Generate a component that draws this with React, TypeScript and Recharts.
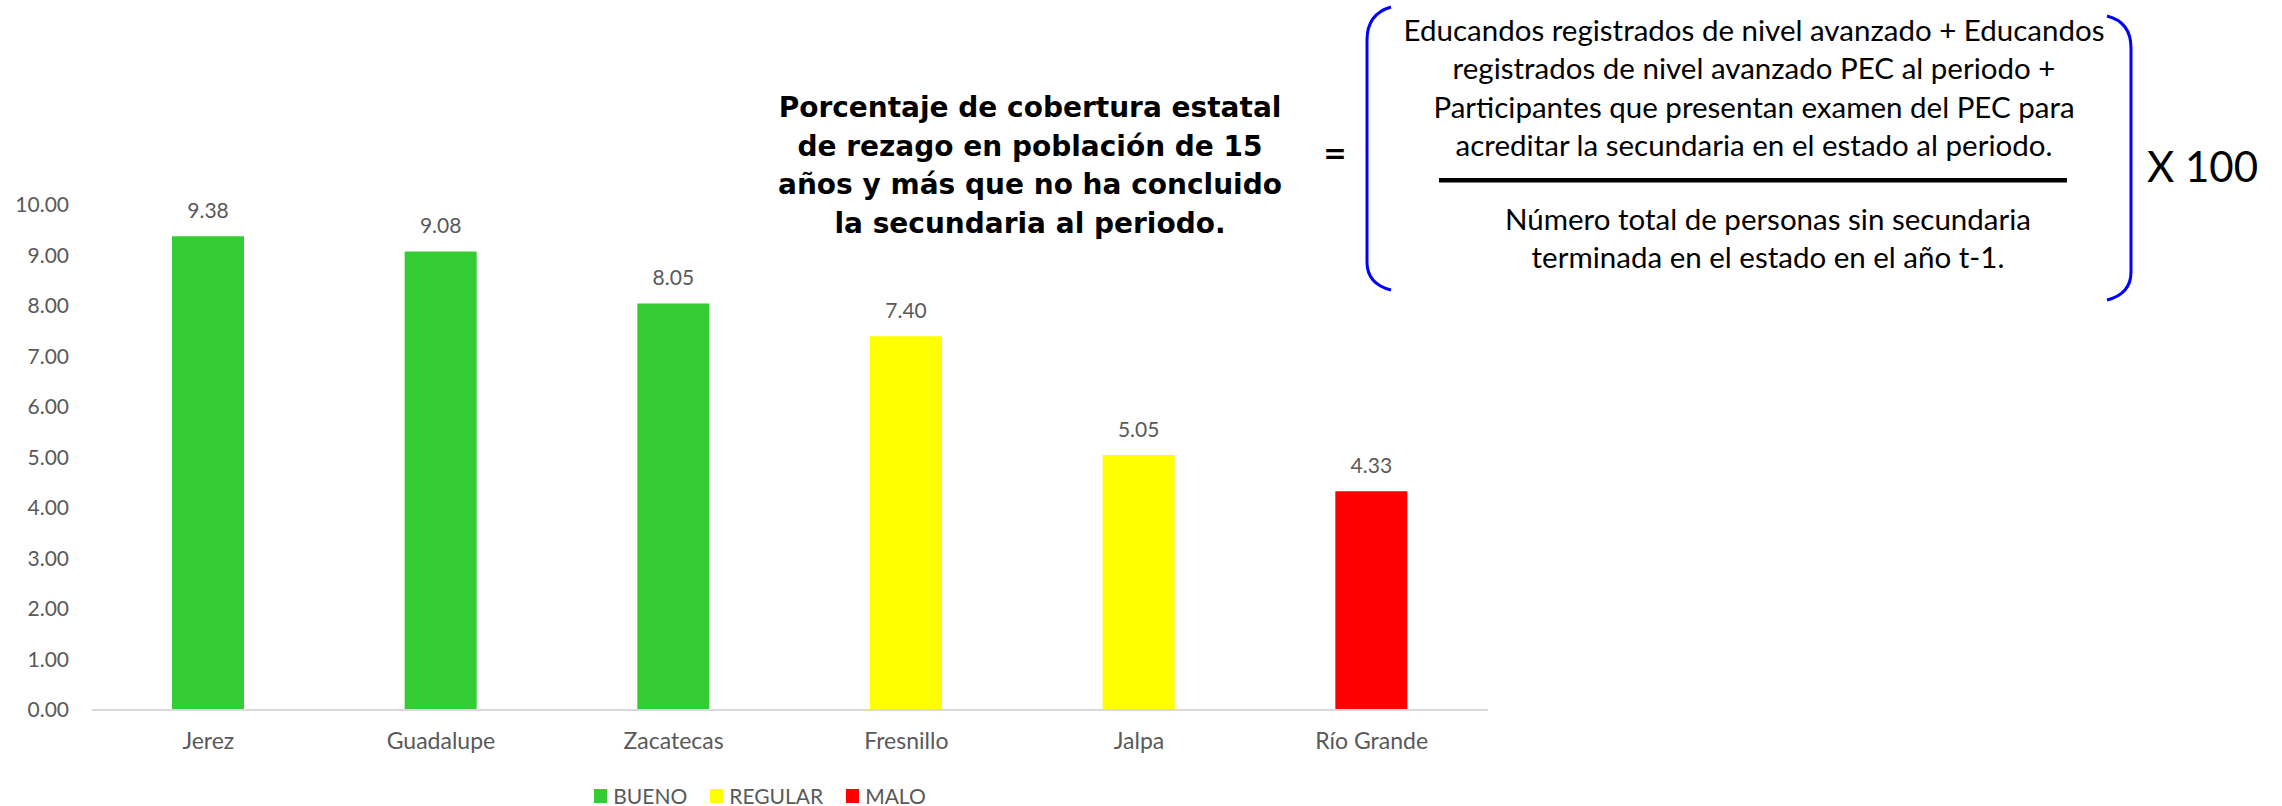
import { BarChart, Bar, XAxis, YAxis, Legend, LabelList } from 'recharts';

const categories = ['Jerez', 'Guadalupe', 'Zacatecas', 'Fresnillo', 'Jalpa', 'Río Grande'];
const values = [9.38, 9.08, 8.05, 7.4, 5.05, 4.33];
const ratings = ['BUENO', 'BUENO', 'BUENO', 'REGULAR', 'REGULAR', 'MALO'];
const levels = ['BUENO', 'REGULAR', 'MALO'];
const levelColors: Record<string, string> = { BUENO: '#33CC33', REGULAR: '#FFFF00', MALO: '#FF0000' };
const yTicks = [0, 1, 2, 3, 4, 5, 6, 7, 8, 9, 10];

const titleLines = [
  'Porcentaje de cobertura estatal',
  'de rezago en población de 15',
  'años y más que no ha concluido',
  'la secundaria al periodo.',
];
const numeratorLines = [
  'Educandos registrados de nivel avanzado + Educandos',
  'registrados de nivel avanzado PEC al periodo +',
  'Participantes que presentan examen del PEC para',
  'acreditar la secundaria en el estado al periodo.',
];
const denominatorLines = [
  'Número total de personas sin secundaria',
  'terminada en el estado en el año t-1.',
];

const chartData = categories.map((name, i) => {
  const row: Record<string, string | number | null> = { name };
  levels.forEach((l) => {
    row[l] = ratings[i] === l ? values[i] : null;
  });
  return row;
});

const FONT = 'Lato, "Open Sans", sans-serif';
const GRAY = '#595959';

function LegendBox() {
  return (
    <div style={{ display: 'flex', justifyContent: 'center', alignItems: 'center', gap: 23, fontFamily: FONT, fontSize: 21, color: GRAY }}>
      {levels.map((l) => (
        <div key={l} style={{ display: 'flex', alignItems: 'center' }}>
          <span style={{ display: 'inline-block', width: 13, height: 14, background: levelColors[l], marginRight: 6 }} />
          <span>{l}</span>
        </div>
      ))}
    </div>
  );
}

export default function App() {
  return (
    <div style={{ position: 'absolute', left: 0, top: 0, width: 2282, height: 806, background: '#fff' }}>
      <BarChart
        width={1520}
        height={806}
        data={chartData}
        margin={{ top: 205, right: 32, left: 0, bottom: 32 }}
      >
        <XAxis
          dataKey="name"
          axisLine={{ stroke: '#D9D9D9', strokeWidth: 2 }}
          tickLine={false}
          tickSize={0}
          tickMargin={23}
          height={40}
          tick={{ fontSize: 23, fill: GRAY, fontFamily: FONT }}
        />
        <YAxis
          domain={[0, 10]}
          ticks={yTicks}
          width={92}
          axisLine={false}
          tickLine={false}
          tickSize={0}
          tickMargin={23}
          tickFormatter={(v: number) => v.toFixed(2)}
          tick={{ fontSize: 21, fill: GRAY, fontFamily: FONT }}
        />
        <Legend
          height={24}
          verticalAlign="bottom"
          wrapperStyle={{ left: 0, width: 1520, top: 783, bottom: 'auto' }}
          content={() => <LegendBox />}
        />
        {levels.map((l) => (
          <Bar key={l} dataKey={l} stackId="a" fill={levelColors[l]} barSize={72} isAnimationActive={false}>
            <LabelList
              dataKey={l}
              position="top"
              offset={18}
              formatter={(v: any) => (v == null ? '' : Number(v).toFixed(2))}
              style={{ fontSize: 21, fill: GRAY, fontFamily: FONT }}
            />
          </Bar>
        ))}
      </BarChart>

      <svg
        width={2282}
        height={806}
        style={{ position: 'absolute', left: 0, top: 0, pointerEvents: 'none' }}
      >
        {titleLines.map((t, i) => (
          <text key={t} x={1030} y={117 + i * 38.5} textAnchor="middle" fontFamily='"DejaVu Sans", sans-serif' fontWeight="bold" fontSize={28} fill="#000">
            {t}
          </text>
        ))}
        <text x={1335} y={163} textAnchor="middle" fontFamily='"DejaVu Sans", sans-serif' fontWeight="bold" fontSize={28} fill="#000">=</text>

        {/* brackets */}
        <path d="M 1391 7 Q 1367 14 1367 40 L 1367 262 Q 1367 284 1391 290" fill="none" stroke="#0000FF" strokeWidth={3} />
        <path d="M 2107 16 Q 2131 22 2131 48 L 2131 272 Q 2131 294 2107 300" fill="none" stroke="#0000FF" strokeWidth={3} />

        {numeratorLines.map((t, i) => (
          <text key={t} x={1754} y={41 + i * 38.3} textAnchor="middle" fontFamily={FONT} fontSize={29.5} fill="#000">
            {t}
          </text>
        ))}
        <rect x={1439} y={178} width={628} height={4.5} fill="#000" />
        {denominatorLines.map((t, i) => (
          <text key={t} x={1768} y={230 + i * 38} textAnchor="middle" fontFamily={FONT} fontSize={29.5} fill="#000">
            {t}
          </text>
        ))}
        <text x={2147} y={182} fontFamily={FONT} fontSize={42} fill="#000">X 100</text>
      </svg>
    </div>
  );
}
